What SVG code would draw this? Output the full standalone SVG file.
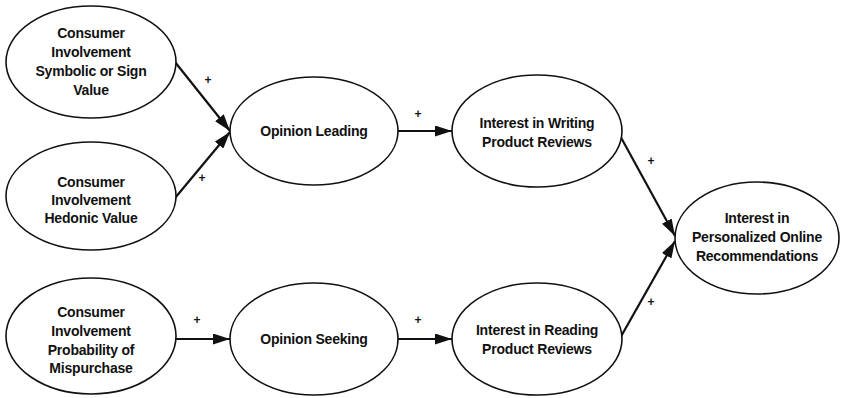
<svg xmlns="http://www.w3.org/2000/svg" width="841" height="398" viewBox="0 0 841 398">
<defs>
<marker id="arr" viewBox="0 0 17 11" refX="17" refY="5.5" markerWidth="17" markerHeight="11" markerUnits="userSpaceOnUse" orient="auto">
<path d="M0,0 L17,5.5 L0,11 Z" fill="#111"/>
</marker>
</defs>
<style>
.n ellipse{fill:#fff;stroke:#111;stroke-width:1.6}
.n text{font-family:"Liberation Sans",Arial,sans-serif;font-weight:bold;font-size:14px;fill:#111;text-anchor:middle;letter-spacing:-0.2px}
.c line{stroke:#111;stroke-width:2.2;marker-end:url(#arr)}
.c text{font-family:"Liberation Sans",Arial,sans-serif;font-weight:bold;font-size:12px;fill:#111;text-anchor:middle}
</style>
<rect width="841" height="398" fill="#fff"/>
<g id="connectors" class="c">
<line x1="175" y1="62" x2="230" y2="131"/>
<line x1="175" y1="198" x2="230" y2="132"/>
<line x1="176" y1="339" x2="230" y2="339"/>
<line x1="397" y1="131" x2="452" y2="131"/>
<line x1="397" y1="339" x2="452" y2="339"/>
<line x1="618" y1="132" x2="675" y2="236"/>
<line x1="619" y1="340" x2="675" y2="241"/>
<text x="208" y="84">+</text>
<text x="202" y="182">+</text>
<text x="197" y="324">+</text>
<text x="418" y="118">+</text>
<text x="418" y="324">+</text>
<text x="651" y="165">+</text>
<text x="651" y="306">+</text>
</g>
<g id="sym" class="n">
<ellipse cx="91" cy="62" rx="85" ry="56"/>
<text x="91" y="38">Consumer</text>
<text x="91" y="57">Involvement</text>
<text x="91" y="76">Symbolic or Sign</text>
<text x="91" y="95">Value</text>
</g>
<g id="hed" class="n">
<ellipse cx="91" cy="196" rx="85" ry="54"/>
<text x="91" y="187">Consumer</text>
<text x="91" y="205">Involvement</text>
<text x="91" y="223">Hedonic Value</text>
</g>
<g id="mis" class="n">
<ellipse cx="91" cy="336" rx="85" ry="58"/>
<text x="91" y="317">Consumer</text>
<text x="91" y="336">Involvement</text>
<text x="91" y="355">Probability of</text>
<text x="91" y="373">Mispurchase</text>
</g>
<g id="lead" class="n">
<ellipse cx="314" cy="131" rx="84" ry="54"/>
<text x="314" y="136">Opinion Leading</text>
</g>
<g id="seek" class="n">
<ellipse cx="314" cy="339" rx="84" ry="56"/>
<text x="314" y="344">Opinion Seeking</text>
</g>
<g id="write" class="n">
<ellipse cx="537" cy="131" rx="85" ry="56"/>
<text x="537" y="128">Interest in Writing</text>
<text x="537" y="147">Product Reviews</text>
</g>
<g id="read" class="n">
<ellipse cx="537" cy="339" rx="85" ry="56"/>
<text x="537" y="335">Interest in Reading</text>
<text x="537" y="354">Product Reviews</text>
</g>
<g id="rec" class="n">
<ellipse cx="757" cy="238" rx="82" ry="56"/>
<text x="757" y="223">Interest in</text>
<text x="757" y="242">Personalized Online</text>
<text x="757" y="261">Recommendations</text>
</g>
</svg>
